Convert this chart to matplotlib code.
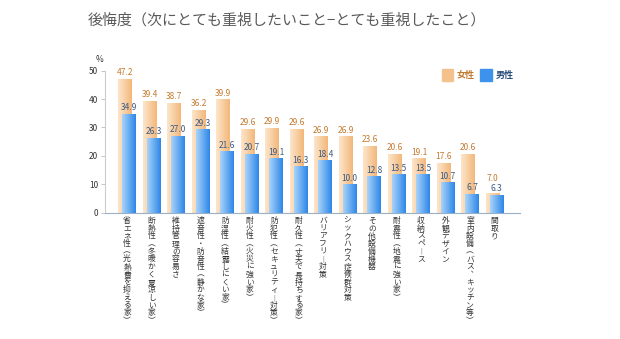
import numpy as np
import matplotlib
matplotlib.use('Agg')
import matplotlib.pyplot as plt
from matplotlib.colors import LinearSegmentedColormap

plt.rcParams['font.family'] = ['Noto Sans CJK JP', 'DejaVu Sans']

categories = ['省エネ性（光熱費を抑える家）', '断熱性（冬暖かく夏涼しい家）', '維持管理の容易さ',
              '遮音性・防音性（静かな家）', '防湿性（結露しにくい家）', '耐火性（火災に強い家）',
              '防犯性（セキュリティー対策）', '耐久性（丈夫で長持ちする家）', 'バリアフリー対策',
              'シックハウス症候群対策', 'その他設備機器', '耐震性（地震に強い家）', '収納スペース',
              '外観デザイン', '室内設備（バス、キッチン等）', '間取り']
female = [47.2, 39.4, 38.7, 36.2, 39.9, 29.6, 29.9, 29.6, 26.9, 26.9, 23.6, 20.6, 19.1, 17.6, 20.6, 7.0]
male = [34.9, 26.3, 27.0, 29.3, 21.6, 20.7, 19.1, 16.3, 18.4, 10.0, 12.8, 13.5, 13.5, 10.7, 6.7, 6.3]
yticks = [0, 10, 20, 30, 40, 50]

title = '後悔度（次にとても重視したいこと−とても重視したこと）'

# 縦書き用の文字に置き換える
vert_map = {'（': '︵', '）': '︶', 'ー': '︱', '、': '︑'}


def tategaki(s):
    return '\n'.join(vert_map.get(c, c) for c in s)


cmap_f = LinearSegmentedColormap.from_list('f', ['#fde6cc', '#f3b77a'])
cmap_m = LinearSegmentedColormap.from_list('m', ['#a8d4fb', '#2e86e8'])

fig = plt.figure(figsize=(6.2, 3.39), dpi=100)
ax = fig.add_axes([105 / 620, 1 - 212.7 / 339, 415 / 620, (212.7 - 70.6) / 339])

x = np.arange(len(categories))
w = 0.57
off = 0.082
grad = np.linspace(0, 1, 64).reshape(1, -1)

bars_f = ax.bar(x - off, female, w, color='#f7cc9c', zorder=2)
bars_m = ax.bar(x + off, male, w, color='#4a9cf0', zorder=3)

for bars, cm, z in [(bars_f, cmap_f, 2), (bars_m, cmap_m, 3)]:
    for b in bars:
        b.set_facecolor('none')
        b.set_edgecolor('none')
        x0, y0 = b.get_x(), b.get_y()
        im = ax.imshow(grad, cmap=cm, aspect='auto', zorder=z,
                       extent=(x0, x0 + b.get_width(), y0, y0 + b.get_height()))
        im.set_clip_path(b)

for i in range(len(categories)):
    # 値が近いときは女性のラベルを少し上へ
    lift = 3.0 if abs(female[i] - male[i]) < 3 else 0
    ax.text(x[i] - off, female[i] + 0.6 + lift, f'{female[i]:.1f}', ha='center', va='bottom',
            fontsize=6, color='#c47a30', zorder=5)
    ax.text(x[i] + off, male[i] + 0.6, f'{male[i]:.1f}', ha='center', va='bottom',
            fontsize=6, color='#3a5a85', zorder=5)
    ax.text(x[i], -1.5, tategaki(categories[i]), ha='center', va='top',
            fontsize=5.6, color='#333333', linespacing=0.95)

ax.set_xlim(-0.9, 16.04)
ax.set_ylim(0, 50)
ax.set_xticks([])
ax.set_yticks(yticks)
ax.tick_params(axis='y', length=3, width=0.6, color='#bbbbbb', labelsize=6,
               labelcolor='#333333', pad=2)

for s in ['top', 'right']:
    ax.spines[s].set_visible(False)
ax.spines['left'].set_color('#cccccc')
ax.spines['left'].set_linewidth(0.8)
ax.spines['bottom'].set_color('#9ab0c8')
ax.spines['bottom'].set_linewidth(0.8)
ax.patch.set_alpha(0)

fig.text(100 / 620, 1 - 60 / 339, '%', fontsize=6, color='#333333', ha='center', va='center')
fig.text(88 / 620, 1 - 20 / 339, title, fontsize=10.8, color='#5a5a5a', ha='left', va='center')

# 凡例
fig.patches.append(plt.Rectangle((442 / 620, 1 - 81 / 339), 11 / 620, 12 / 339,
                                 transform=fig.transFigure, color='#f4c18c', figure=fig))
fig.text(457 / 620, 1 - 75 / 339, '女性', fontsize=6.5, color='#c47a30', va='center',
         fontweight='bold')
fig.patches.append(plt.Rectangle((480 / 620, 1 - 81 / 339), 12 / 620, 12 / 339,
                                 transform=fig.transFigure, color='#3d92ec', figure=fig))
fig.text(496 / 620, 1 - 75 / 339, '男性', fontsize=6.5, color='#2c4f7c', va='center',
         fontweight='bold')

fig.savefig('out.png', dpi=100)
